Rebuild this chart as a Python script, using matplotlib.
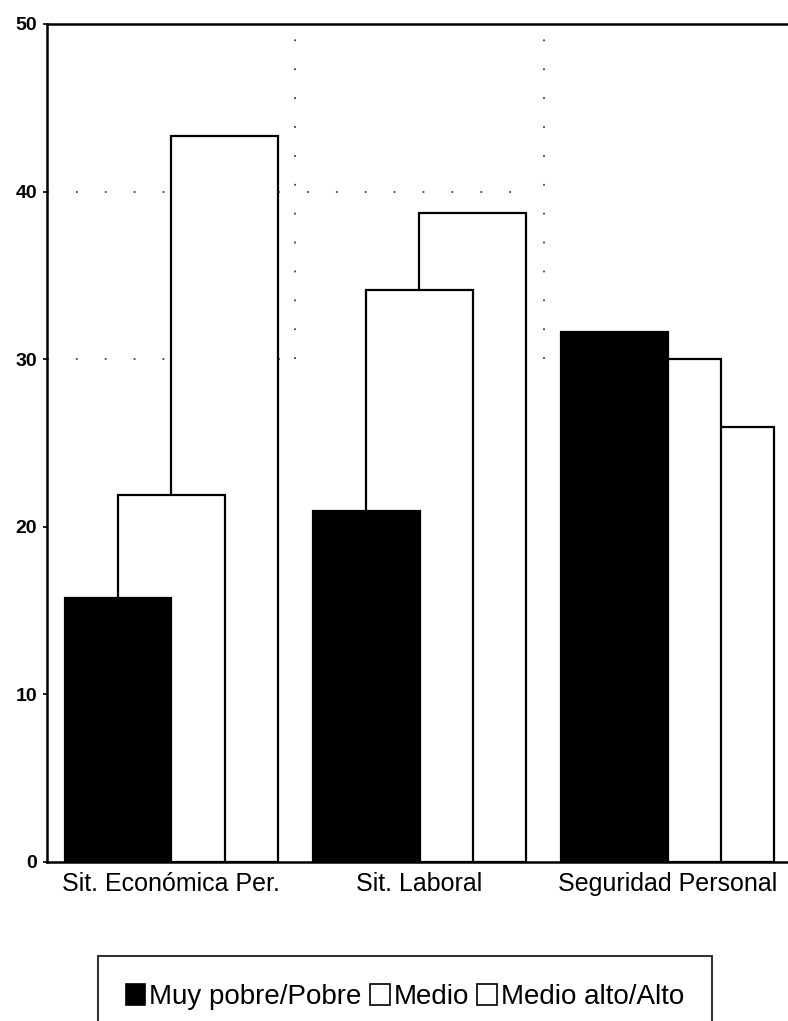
import matplotlib
matplotlib.use("Agg")
import matplotlib.pyplot as plt
from matplotlib.patches import Patch
import numpy as np

categories = ["Sit. Económica Per.", "Sit. Laboral", "Seguridad Personal"]
series_names = ["Muy pobre/Pobre", "Medio", "Medio alto/Alto"]
muy_pobre = [15.75, 20.95, 31.6]
medio = [21.9, 34.1, 30.0]
medio_alto = [43.3, 38.7, 25.95]
y_ticks = [0, 10, 20, 30, 40, 50]

plt.rcParams['font.family'] = ['Liberation Sans', 'DejaVu Sans']

W, H = 788, 1021
fig = plt.figure(figsize=(W / 100, H / 100), dpi=100)
fig.patch.set_facecolor('white')

left_px, right_px, top_px, bottom_px = 47, 792, 24, 862
ax = fig.add_axes([left_px / W, 1 - bottom_px / H, (right_px - left_px) / W, (bottom_px - top_px) / H])

x = np.arange(len(categories))
width = 0.43
offset = 0.2145

ax.bar(x + offset, medio_alto, width, facecolor='white', edgecolor='black', linewidth=1.6, zorder=2)
ax.bar(x, medio, width, facecolor='white', edgecolor='black', linewidth=1.6, zorder=3)
ax.bar(x - offset, muy_pobre, width, facecolor='black', edgecolor='black', linewidth=1.6, zorder=4)

# dotted reference grid (partial, as in the original)
grid_kw = dict(color='#444444', linewidth=1.3, linestyle=(0, (1, 15)), zorder=1)
ax.hlines(40, -0.5, 1.45, **grid_kw)
ax.hlines(30, -0.5, 0.5, **grid_kw)
ax.vlines([0.5, 1.5], 30, 50, **grid_kw)

ax.set_xlim(-0.5, 2.5)
ax.set_ylim(0, 50)
ax.set_yticks(y_ticks)
ax.set_yticklabels([str(t) for t in y_ticks], fontsize=14, fontweight='bold')
ax.set_xticks(x)
ax.set_xticklabels(categories, fontsize=18)
ax.tick_params(axis='x', length=0, pad=7)
ax.tick_params(axis='y', length=3, width=1.2, direction='out', pad=4)

for side in ['left', 'top', 'bottom']:
    ax.spines[side].set_linewidth(1.8)
    ax.spines[side].set_color('black')
ax.spines['right'].set_visible(False)

handles = [Patch(facecolor='black', edgecolor='black', linewidth=1.2),
           Patch(facecolor='white', edgecolor='black', linewidth=1.2),
           Patch(facecolor='white', edgecolor='black', linewidth=1.2)]
leg = fig.legend(handles, series_names, loc='upper center',
                 bbox_to_anchor=(405 / W, 1 - 956 / H), bbox_transform=fig.transFigure,
                 ncol=3, frameon=True, fancybox=False, fontsize=20,
                 handlelength=0.7, handleheight=0.8, handletextpad=0.15,
                 columnspacing=0.3, borderpad=1.0, borderaxespad=0)
leg.get_frame().set_edgecolor('black')
leg.get_frame().set_linewidth(1.5)

fig.savefig("out.png", dpi=100, facecolor='white')
